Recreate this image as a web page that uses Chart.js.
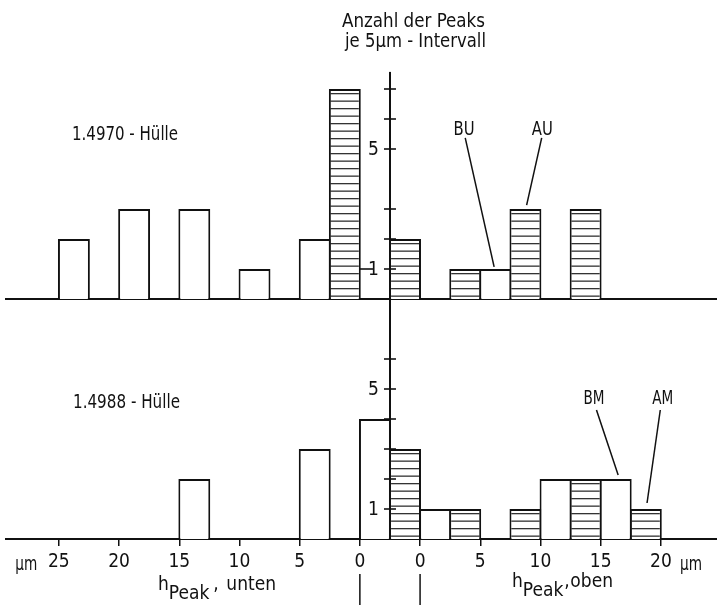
<!DOCTYPE html>
<html lang="de">
<head>
<meta charset="utf-8">
<title>Anzahl der Peaks je 5 µm-Intervall</title>
<script src="https://cdn.jsdelivr.net/npm/chart.js@4.4.1/dist/chart.umd.min.js"></script>
<style>
  html, body { margin: 0; padding: 0; background: #fff; }
  #fig { position: relative; width: 717px; height: 605px; background: #fff; }
  #fig canvas { position: absolute; left: 0; top: 0; }
</style>
</head>
<body>
<div id="fig">
  <canvas id="upper" width="717" height="605"></canvas>
  <canvas id="lower" width="717" height="605"></canvas>
</div>
<script>
(function () {
  "use strict";

  // 2.5 µm classes on one common axis (µm). The count axis sits at 0,
  // h_Peak,unten = 0 lies 2.5 µm left of it and h_Peak,oben = 0 2.5 µm right of it.
  const classMid = [
    -26.25, -23.75, -21.25, -18.75, -16.25, -13.75, -11.25, -8.75, -6.25, -3.75,
    -1.25, 1.25, 3.75, 6.25, 8.75, 11.25, 13.75, 16.25, 18.75, 21.25,
  ];

  // peaks per class: open and hatched columns
  const upperOpen    = [2, null, 3, null, 3, null, 1, null, 2, null, null, null, null, null, 1, null, null, null, null, null];
  const upperHatched = [null, null, null, null, null, null, null, null, null, 7, null, 2, null, 1, null, 3, null, 3, null, null];
  const lowerOpen    = [null, null, null, null, 2, null, null, null, 3, null, 4, null, 1, null, null, null, 2, null, 2, null];
  const lowerHatched = [null, null, null, null, null, null, null, null, null, null, null, 3, null, 1, null, 1, null, 2, null, 1];

  // x ticks: left half counts outwards from the "unten" zero, right half from the "oben" zero
  const xTicks = [-27.5, -22.5, -17.5, -12.5, -7.5, -2.5, 2.5, 7.5, 12.5, 17.5, 22.5];
  const xTickLabels = ["25", "20", "15", "10", "5", "0", "0", "5", "10", "15", "20"];

  // count axis ticks, only 1 and 5 are numbered
  const upperYTicks = [1, 2, 3, 5, 6, 7];
  const lowerYTicks = [1, 2, 3, 4, 5, 6];
  const yTickLabels = ["", "1", "", "", "", "5", "", ""];

  // callouts: text position, leader start, leader end (µm, count)
  const upperCallouts = [
    { text: "BU", at: [6.15, 5.7], from: [6.25, 5.37], to: [8.65, 1.07] },
    { text: "AU", at: [12.65, 5.7], from: [12.6, 5.37], to: [11.35, 3.13] },
  ];
  const lowerCallouts = [
    { text: "BM", at: [16.95, 4.73], from: [17.15, 4.3], to: [18.95, 2.13] },
    { text: "AM", at: [22.65, 4.73], from: [22.45, 4.3], to: [21.35, 1.2] },
  ];

  const INK = "#111";
  const FONT = "'Liberation Sans Narrow', 'DejaVu Sans Condensed', 'Roboto Condensed', sans-serif";
  const X_MIN = -31.89;
  const X_MAX = 27.16;

  function makeHatch() {
    const c = document.createElement("canvas");
    c.width = 8;
    c.height = 15;
    const g = c.getContext("2d");
    g.fillStyle = "#fff";
    g.fillRect(0, 0, 8, 15);
    g.fillStyle = "#333";
    g.fillRect(0, 3, 8, 1.3);
    g.fillRect(0, 10.5, 8, 1.3);
    return g.createPattern(c, "repeat");
  }
  const hatchFill = makeHatch();

  function columns(data, fill) {
    return {
      data: data,
      backgroundColor: fill,
      borderColor: INK,
      borderWidth: 2,
      borderSkipped: "start",
      grouped: false,
      barPercentage: 1.06,
      categoryPercentage: 1,
    };
  }

  function text(ctx, str, x, y, size, align, maxW) {
    ctx.save();
    ctx.font = size + "px " + FONT;
    ctx.fillStyle = INK;
    ctx.textAlign = align || "left";
    ctx.textBaseline = "alphabetic";
    if (maxW) ctx.fillText(str, x, y, maxW); else ctx.fillText(str, x, y);
    ctx.restore();
  }

  function drawCountAxis(chart, ticks, fromV, toV) {
    const { ctx, scales: { x, y } } = chart;
    const x0 = x.getPixelForValue(0);
    ctx.save();
    ctx.strokeStyle = INK;
    ctx.lineWidth = 2;
    ctx.beginPath();
    ctx.moveTo(x0, y.getPixelForValue(toV));
    ctx.lineTo(x0, y.getPixelForValue(fromV));
    ctx.stroke();
    ctx.lineWidth = 1.6;
    ctx.font = "19px " + FONT;
    ctx.fillStyle = INK;
    ctx.textAlign = "right";
    ctx.textBaseline = "middle";
    ticks.forEach((v) => {
      const py = y.getPixelForValue(v);
      ctx.beginPath();
      ctx.moveTo(x0 - 6, py);
      ctx.lineTo(x0 + 6, py);
      ctx.stroke();
      if (yTickLabels[v]) ctx.fillText(yTickLabels[v], x0 - 11, py + 1);
    });
    ctx.restore();
  }

  function drawCallouts(chart, list) {
    const { ctx, scales: { x, y } } = chart;
    ctx.save();
    ctx.strokeStyle = INK;
    ctx.lineWidth = 1.5;
    list.forEach((c) => {
      ctx.beginPath();
      ctx.moveTo(x.getPixelForValue(c.from[0]), y.getPixelForValue(c.from[1]));
      ctx.lineTo(x.getPixelForValue(c.to[0]), y.getPixelForValue(c.to[1]));
      ctx.stroke();
      text(ctx, c.text, x.getPixelForValue(c.at[0]), y.getPixelForValue(c.at[1]) + 7, 20, "center", 21);
    });
    ctx.restore();
  }

  // "h_Peak, unten": h, lowered index, comma, word
  function drawHPeak(ctx, left, base, word, commaGap, wordGap) {
    ctx.save();
    ctx.font = "19px " + FONT;
    const wH = ctx.measureText("h").width;
    const wP = ctx.measureText("Peak").width;
    let x0 = left;
    text(ctx, "h", x0, base, 19);
    x0 += wH;
    text(ctx, "Peak", x0, base + 9, 19);
    x0 += wP + commaGap;
    text(ctx, ",", x0, base, 19);
    x0 += wordGap;
    text(ctx, word, x0, base, 19);
    ctx.restore();
  }

  function xAxis(showTicks) {
    return {
      type: "linear",
      min: X_MIN,
      max: X_MAX,
      offset: false,
      afterBuildTicks: (s) => { s.ticks = xTicks.map((v) => ({ value: v })); },
      afterFit: (s) => { s.height = showTicks ? 40 : 0; },
      grid: { display: showTicks, offset: false, drawOnChartArea: false, drawTicks: true, tickLength: 7, color: INK, lineWidth: 1.5 },
      border: { display: true, color: INK, width: 2 },
      ticks: {
        display: showTicks, autoSkip: false, maxRotation: 0, padding: 5, color: INK,
        font: { family: FONT, size: 19 },
        callback: (v, i) => xTickLabels[i],
      },
    };
  }

  function panel(id, open, hatched, padding, showTicks, decorate) {
    return new Chart(document.getElementById(id), {
      type: "bar",
      data: {
        labels: classMid,
        datasets: [columns(open, "#fff"), columns(hatched, hatchFill)],
      },
      options: {
        responsive: false,
        animation: false,
        layout: { padding: padding },
        plugins: { legend: { display: false }, tooltip: { enabled: false } },
        scales: {
          x: xAxis(showTicks),
          y: { display: false, min: 0, max: 8 },
        },
      },
      plugins: [{ id: "decor", afterDraw: decorate }],
    });
  }

  // 1.4970-Hülle
  panel("upper", upperOpen, upperHatched, { top: 59, bottom: 306, left: 6, right: 0 }, false, (chart) => {
    const { ctx, scales: { x, y } } = chart;
    drawCountAxis(chart, upperYTicks, -0.3, 7.57);
    // short lead-in to the "1"
    ctx.save();
    ctx.strokeStyle = INK;
    ctx.lineWidth = 1.6;
    ctx.beginPath();
    ctx.moveTo(x.getPixelForValue(-2.5), y.getPixelForValue(1));
    ctx.lineTo(x.getPixelForValue(0) - 17, y.getPixelForValue(1));
    ctx.stroke();
    ctx.restore();
    text(ctx, "Anzahl der Peaks", 342, 27, 19, "left", 143);
    text(ctx, "je 5µm - Intervall", 345, 47, 19, "left", 141);
    text(ctx, "1.4970 - Hülle", 72, 140, 19, "left", 106);
    drawCallouts(chart, upperCallouts);
  });

  // 1.4988-Hülle
  panel("lower", lowerOpen, lowerHatched, { top: 299, bottom: 26, left: 6, right: 0 }, true, (chart) => {
    const { ctx, scales: { x, y } } = chart;
    drawCountAxis(chart, lowerYTicks, 0, 7.97);
    text(ctx, "1.4988 - Hülle", 73, 408, 19, "left", 107);
    drawCallouts(chart, lowerCallouts);

    // unit marks at both ends of the axis
    const yLab = y.getPixelForValue(0) + 31;
    text(ctx, "µm", x.getPixelForValue(-30.2), yLab, 19, "center", 22);
    text(ctx, "µm", x.getPixelForValue(25.0), yLab, 19, "center", 22);

    drawHPeak(ctx, 158, 590, "unten", 4, 13);
    drawHPeak(ctx, 512, 587, "oben", 1, 6);

    // markers under both zero points
    ctx.save();
    ctx.strokeStyle = INK;
    ctx.lineWidth = 1.5;
    [-2.5, 2.5].forEach((v) => {
      const px = x.getPixelForValue(v);
      ctx.beginPath();
      ctx.moveTo(px, 574);
      ctx.lineTo(px, 605);
      ctx.stroke();
    });
    ctx.restore();
  });
})();
</script>
</body>
</html>
